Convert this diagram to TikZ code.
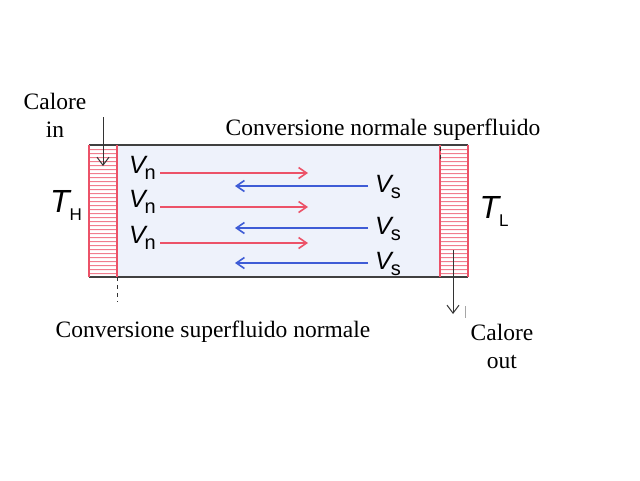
\documentclass[tikz,border=0pt]{standalone}
\usepackage{fontspec}
\setmainfont{Liberation Serif}
\setsansfont{Liberation Sans}
\usetikzlibrary{arrows.meta, positioning}
\definecolor{flowRed}{RGB}{236, 82, 104}
\definecolor{flowBlue}{RGB}{62, 92, 214}
\definecolor{channelBlue}{RGB}{238, 242, 251}

\newcommand{\velo}[1]{{\sffamily\itshape V}\kern-1pt\raisebox{-0.5ex}{\sffamily\fontsize{20}{21}\selectfont #1}}
\newcommand{\temp}[1]{{\sffamily\itshape T}\raisebox{-0.6ex}{\sffamily\fontsize{17}{18}\selectfont #1}}

\begin{document}
\begin{tikzpicture}[x=1pt, y=-1pt]
    \useasboundingbox (0,0) rectangle (640,480);
    \tikzset{
        caption/.style={font=\fontsize{23.5}{28}\selectfont, align=center, inner sep=0pt},
        vlabel/.style={font=\fontsize{25}{26}\selectfont, inner sep=0pt},
        tlabel/.style={font=\fontsize{32}{33}\selectfont, inner sep=0pt, anchor=base},
        redflow/.style={draw=flowRed, line width=1.6pt, -{Straight Barb[length=8pt, width=11pt]}},
        blueflow/.style={draw=flowBlue, line width=1.6pt, -{Straight Barb[length=8pt, width=11pt]}},
        heatflow/.style={draw=black!80, line width=1pt, -{Straight Barb[length=8pt, width=12pt]}}
    }

    % Channel
    \fill[channelBlue] (117,145) rectangle (440,277);
    \draw[black!75, line width=1.3pt] (89,145) -- (468,145);
    \draw[black!75, line width=1.3pt] (89,277) -- (468,277);

    % Hot and cold reservoirs
    \fill[flowRed!75]
        \foreach \yy in {149,153,...,273} {(89,\yy) rectangle (117,\yy+1) (440,\yy) rectangle (468,\yy+1)};
    \draw[flowRed, line width=1.2pt] (89,145) -- (89,277);
    \draw[flowRed, line width=1.2pt] (117,145) -- (117,277);
    \draw[flowRed, line width=1.2pt] (440,145) -- (440,277);
    \draw[flowRed, line width=1.2pt] (468,145) -- (468,277);

    % Conversion boundaries
    \draw[black!80, line width=1pt, dash pattern=on 4pt off 4pt] (117,277) -- (117,302);
    \draw[black!80, line width=1pt, dash pattern=on 4pt off 4pt] (440,147) -- (440,162);
    \draw[black!35, line width=0.6pt] (465,306) -- (465,318);

    % Temperatures
    \node[tlabel] (th) at (66,212) {\temp{H}};
    \node[tlabel] (tl) at (494,218) {\temp{L}};

    % Normal component
    \foreach \i/\yy in {1/173, 2/207, 3/243} {
        \node[vlabel, anchor=east] (vn\i) at (156,\yy-5) {\velo{n}};
        \coordinate (rn\i) at (308,\yy);
        \draw[redflow] (vn\i.east |- rn\i) ++(4,0) -- (rn\i);
    }

    % Superfluid component
    \foreach \i/\yy in {1/186, 2/228, 3/263} {
        \node[vlabel, anchor=west] (vs\i) at (375,\yy+1) {\velo{s}};
        \coordinate (bs\i) at (235,\yy);
        \draw[blueflow] (vs\i.west |- bs\i) ++(-7,0) -- (bs\i);
    }

    % Heat in and out
    \node[caption] (qin) at (55,115) {Calore\\in};
    \coordinate (qinend) at (103,166);
    \draw[heatflow] (103,117) -- (qinend);
    \node[caption] (qout) at (502,346) {Calore\\out};
    \coordinate (qoutstart) at (453,250);
    \coordinate (qoutend) at (453,314);
    \draw[heatflow] (qoutstart) -- (qoutend);

    % Conversion labels
    \node[caption] (convtop) at (383,130) {Conversione normale superfluido};
    \node[caption] (convbot) at (213,332) {Conversione superfluido normale};
\end{tikzpicture}
\end{document}
